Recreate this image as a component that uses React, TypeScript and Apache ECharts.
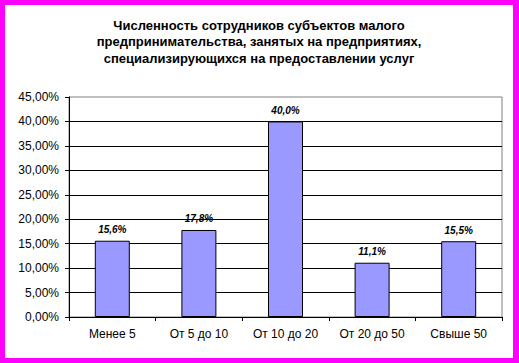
import React, { useEffect, useRef } from "react";
import * as echarts from "echarts";

const categories = ["Менее 5", "От 5 до 10", "От 10 до 20", "От 20 до 50", "Свыше 50"];
const values = [15.6, 17.8, 40.0, 11.1, 15.5];
const titleText =
  "Численность сотрудников субъектов малого\nпредпринимательства, занятых на предприятиях,\nспециализирующихся на предоставлении услуг";

export default function App() {
  const ref = useRef<HTMLDivElement>(null);
  useEffect(() => {
    document.body.style.margin = "0";
    const chart = echarts.init(ref.current!, undefined, { renderer: "svg" });
    const font = "Arial, 'Liberation Sans', sans-serif";
    chart.setOption({
      animation: false,
      backgroundColor: "#ffffff",
      textStyle: { fontFamily: font },
      title: {
        text: titleText,
        left: "center",
        top: 7,
        textStyle: {
          fontFamily: font,
          fontSize: 13,
          fontWeight: "bold",
          color: "#000000",
          lineHeight: 16.5,
        },
      },
      grid: {
        left: 64,
        right: 11,
        top: 92,
        bottom: 41,
        show: true,
        borderColor: "#808080",
        borderWidth: 1,
        backgroundColor: "transparent",
      },
      xAxis: {
        type: "category",
        data: categories,
        axisLine: { show: true, lineStyle: { color: "#000000", width: 1 } },
        axisTick: { show: true, length: 4, alignWithLabel: false, lineStyle: { color: "#000000" } },
        axisLabel: { color: "#000000", fontSize: 12, margin: 11, fontFamily: font },
        splitLine: { show: false },
      },
      yAxis: {
        type: "value",
        min: 0,
        max: 45,
        interval: 5,
        axisLine: { show: true, lineStyle: { color: "#000000", width: 1 } },
        axisTick: { show: true, length: 4, lineStyle: { color: "#000000" } },
        axisLabel: {
          color: "#000000",
          fontSize: 12,
          margin: 10,
          fontFamily: font,
          formatter: (v: number) => v.toFixed(2).replace(".", ",") + "%",
        },
        splitLine: {
          show: true,
          showMaxLine: false,
          lineStyle: { color: "#000000", width: 1 },
        },
      },
      series: [
        {
          type: "bar",
          data: values,
          barWidth: 35,
          itemStyle: { color: "#9999FF", borderColor: "#000000", borderWidth: 1 },
          label: {
            show: true,
            position: "top",
            distance: 6,
            fontSize: 10,
            fontWeight: "bold",
            fontStyle: "italic",
            color: "#000000",
            fontFamily: font,
            formatter: (p: any) => p.value.toFixed(1).replace(".", ",") + "%",
          },
        },
      ],
    });
    return () => chart.dispose();
  }, []);
  return (
    <div style={{ width: 519, height: 363, background: "#FF00FF", position: "relative" }}>
      <div
        ref={ref}
        style={{ position: "absolute", left: 5, top: 5, width: 508, height: 353, background: "#ffffff" }}
      />
    </div>
  );
}
